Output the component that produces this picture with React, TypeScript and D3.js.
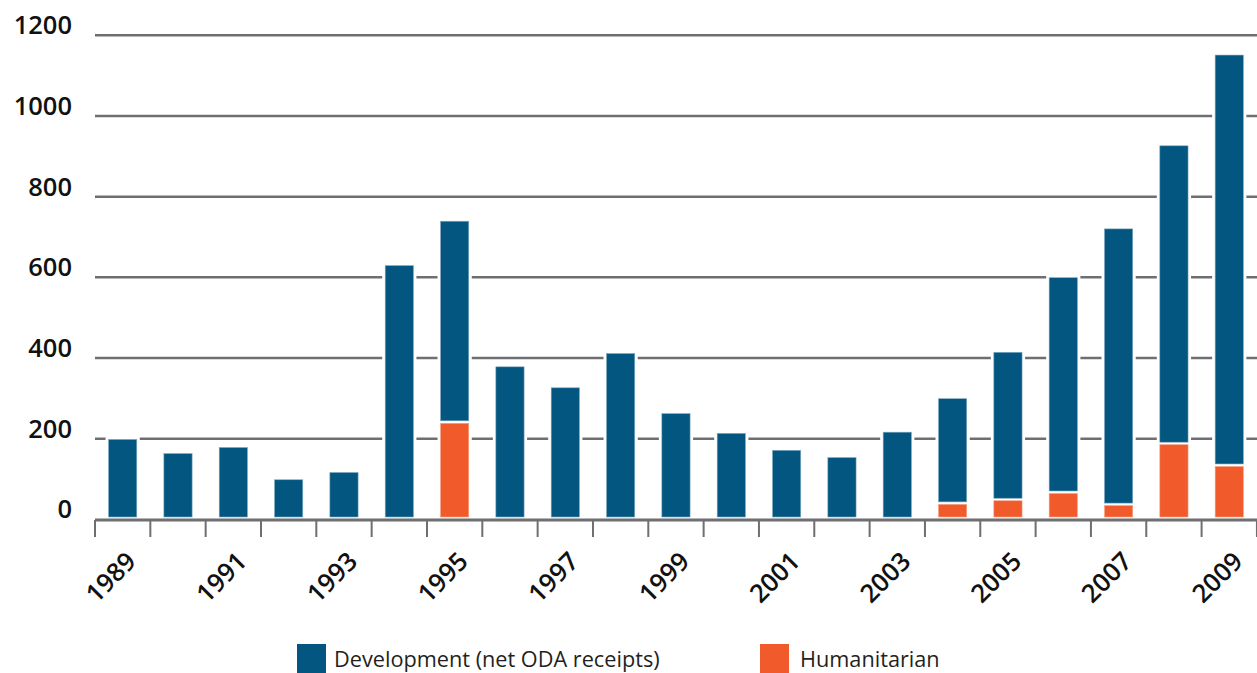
import React from "react";
import * as d3 from "d3";

const years = [1989,1990,1991,1992,1993,1994,1995,1996,1997,1998,1999,2000,2001,2002,2003,2004,2005,2006,2007,2008,2009];
const humanitarian = [0,0,0,0,0,0,238,0,0,0,0,0,0,0,0,37,46,64,34,185,131];
const totals = [198,163,178,98,116,629,739,378,326,411,262,213,171,153,216,299,414,599,720,926,1151];
const yTicks = [0,200,400,600,800,1000,1200];
const xLabelYears = [1989,1991,1993,1995,1997,1999,2001,2003,2005,2007,2009];
const seriesNames = ["Development (net ODA receipts)", "Humanitarian"];

const W = 1257, H = 673;
const BLUE = "#02567f";
const ORANGE = "#f15a2b";
const GRID = "#6f6f72";
const FONT = "'Open Sans', 'Noto Sans', sans-serif";

export default function App() {
  const x = d3.scaleBand<number>().domain(years).range([95, 95 + 55.33 * 21]).paddingInner(0.49).paddingOuter(0.245);
  const xb = d3.scaleBand<number>().domain(years).range([95, 95 + 55.33 * 21]);
  const y = d3.scaleLinear().domain([0, 1200]).range([519.3, 35.3]);
  const base = 517;
  const bw = x.bandwidth();

  return (
    <svg width={W} height={H} style={{ position: "absolute", left: 0, top: 0, background: "#fff" }} fontFamily={FONT}>
      {/* gridlines */}
      {yTicks.filter(t => t > 0).map(t => (
        <line key={"g" + t} x1={95} x2={W} y1={y(t)} y2={y(t)} stroke={GRID} strokeWidth={2.5} />
      ))}
      {/* y labels */}
      {yTicks.map(t => (
        <text key={"yl" + t} x={72} y={y(t) - 1} textAnchor="end" fontSize={25.5} fontWeight={600} fill="#111">{t}</text>
      ))}
      {/* axis */}
      <line x1={95} x2={W} y1={520} y2={520} stroke={GRID} strokeWidth={3} />
      {d3.range(0, 22).map(i => {
        const xx = 95 + i * xb.step();
        return <line key={"t" + i} x1={xx} x2={xx} y1={520} y2={537} stroke={GRID} strokeWidth={2} />;
      })}
      {/* bars */}
      {years.map((yr, i) => {
        const x0 = x(yr)!;
        const tot = totals[i];
        const h = humanitarian[i];
        return (
          <g key={"b" + yr}>
            <rect x={x0 - 3} y={y(tot) - 3} width={bw + 6} height={base - y(tot) + 3} fill="#fff" />
            {h > 0 && (
              <rect x={x0} y={y(h)} width={bw} height={base - y(h)} fill={ORANGE} stroke="#f7a283" strokeWidth={0.6} />
            )}
            <rect x={x0} y={y(tot)} width={bw} height={(h > 0 ? y(h) - 2.5 : base) - y(tot)} fill={BLUE} stroke="#7fa9c2" strokeWidth={0.6} />
          </g>
        );
      })}
      {/* x labels */}
      {xLabelYears.map(yr => {
        const cx = xb(yr)! + xb.bandwidth() / 2;
        return (
          <text key={"xl" + yr} transform={`translate(${cx + 15},${563}) rotate(-45)`} textAnchor="end" fontSize={25.5} fontWeight={600} fill="#111">{yr}</text>
        );
      })}
      {/* legend */}
      <rect x={297} y={644} width={29} height={29} fill={BLUE} />
      <text x={334} y={667} fontSize={21.7} fill="#231f20">{seriesNames[0]}</text>
      <rect x={760} y={644} width={29} height={29} fill={ORANGE} />
      <text x={800} y={667} fontSize={21.7} fill="#231f20">{seriesNames[1]}</text>
    </svg>
  );
}
